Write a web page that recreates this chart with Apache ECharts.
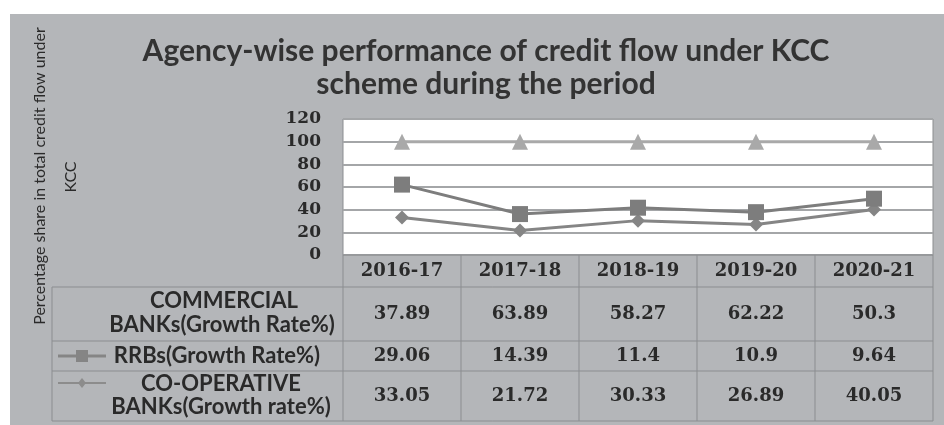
<!DOCTYPE html>
<html>
<head>
<meta charset="utf-8">
<script src="https://cdn.jsdelivr.net/npm/echarts@6/dist/echarts.min.js"></script>
<style>
  html, body { margin: 0; padding: 0; background: #fff; }
  #chart { width: 944px; height: 425px; }
</style>
</head>
<body>
<div id="chart"></div>
<script>
const years = ["2016-17", "2017-18", "2018-19", "2019-20", "2020-21"];
const commercial = [37.89, 63.89, 58.27, 62.22, 50.3];
const rrbs = [29.06, 14.39, 11.4, 10.9, 9.64];
const coop = [33.05, 21.72, 30.33, 26.89, 40.05];

const bg = "#b4b6b9";
const lineCol = "#8b8d90";
const textCol = "#2a2a2a";
const serif = "DejaVu Serif";
const sans = "Lato";

// plot / table geometry
const plotL = 343, plotR = 933, plotT = 119, plotB = 255;
const colW = (plotR - plotL) / years.length;
const rowY = [255, 287, 341, 371, 421];
const tableL = 52;

const myChart = echarts.init(document.getElementById("chart"));

let graphic = [];

// grey background panel
graphic.push({
  type: "rect", z: -10, silent: true,
  shape: { x: 10, y: 14, width: 934, height: 411 },
  style: { fill: bg }
});
// white plot area
graphic.push({
  type: "rect", z: -9, silent: true,
  shape: { x: plotL, y: plotT, width: plotR - plotL, height: plotB - plotT },
  style: { fill: "#fff", stroke: lineCol, lineWidth: 1 }
});

// table lines
const hLine = function (y, x1, x2) {
  graphic.push({
    type: "line", silent: true, z: 5,
    shape: { x1: x1, y1: y, x2: x2, y2: y },
    style: { stroke: lineCol, lineWidth: 1 }
  });
};
const vLine = function (x, y1, y2) {
  graphic.push({
    type: "line", silent: true, z: 5,
    shape: { x1: x, y1: y1, x2: x, y2: y2 },
    style: { stroke: lineCol, lineWidth: 1 }
  });
};
hLine(rowY[0], plotL, plotR);
for (let i = 1; i < rowY.length; i++) hLine(rowY[i], tableL, plotR);
vLine(tableL, rowY[1], rowY[4]);
for (let i = 0; i <= years.length; i++) vLine(plotL + i * colW, rowY[0], rowY[4]);

// table values
const tableRows = [commercial, rrbs, coop];
const valueY = [314, 356, 396];
tableRows.forEach((row, r) => {
  row.forEach((v, c) => {
    graphic.push({
      type: "text", silent: true, z: 6,
      x: plotL + (c + 0.5) * colW, y: valueY[r],
      style: {
        text: String(v), fontFamily: serif, fontWeight: "bold", fontSize: 18,
        fill: textCol, align: "center", verticalAlign: "middle"
      }
    });
  });
});

// row labels
const labelText = function (t, x, y) {
  graphic.push({
    type: "text", silent: true, z: 6, x: x, y: y,
    style: {
      text: t, fontFamily: sans, fontWeight: "bold", fontSize: 22,
      fill: textCol, align: "center", verticalAlign: "middle"
    }
  });
};
labelText("COMMERCIAL", 224, 301);
labelText("BANKs(Growth Rate%)", 222, 325);
labelText("RRBs(Growth Rate%)", 217, 356);
labelText("CO-OPERATIVE", 221, 384);
labelText("BANKs(Growth rate%)", 221, 407);

// legend keys inside the table
graphic.push({
  type: "line", silent: true, z: 6,
  shape: { x1: 58, y1: 356, x2: 106, y2: 356 },
  style: { stroke: "#858585", lineWidth: 3 }
});
graphic.push({
  type: "rect", silent: true, z: 7,
  shape: { x: 76, y: 350, width: 12, height: 12 },
  style: { fill: "#858585" }
});
graphic.push({
  type: "line", silent: true, z: 6,
  shape: { x1: 58, y1: 383, x2: 106, y2: 383 },
  style: { stroke: "#8c8c8c", lineWidth: 2 }
});
graphic.push({
  type: "polygon", silent: true, z: 7,
  shape: { points: [[82, 378], [86, 383], [82, 388], [78, 383]] },
  style: { fill: "#8c8c8c" }
});

// y axis title (two rotated lines)
graphic.push({
  type: "text", silent: true, x: 40, y: 176, rotation: Math.PI / 2,
  style: {
    text: "Percentage share in total credit flow under", fontFamily: sans,
    fontSize: 16, fill: textCol, align: "center", verticalAlign: "middle"
  }
});
graphic.push({
  type: "text", silent: true, x: 71, y: 177, rotation: Math.PI / 2,
  style: {
    text: "KCC", fontFamily: sans, fontSize: 16, fill: textCol,
    align: "center", verticalAlign: "middle"
  }
});

const option = {
  animation: false,
  title: {
    text: "Agency-wise performance of credit flow under KCC\nscheme during the period",
    left: 481, top: 30, textAlign: "center",
    textStyle: {
      fontFamily: sans, fontWeight: "bold", fontSize: 30, color: "#333",
      lineHeight: 33
    }
  },
  grid: { left: plotL, right: 944 - plotR, top: plotT, bottom: 425 - plotB },
  xAxis: {
    type: "category",
    data: years,
    boundaryGap: true,
    axisLine: { show: false },
    axisTick: { show: false },
    axisLabel: {
      margin: 7, fontFamily: serif, fontWeight: "bold", fontSize: 18, color: textCol
    }
  },
  yAxis: {
    type: "value",
    min: 0, max: 120, interval: 20,
    axisLine: { show: false },
    axisTick: { show: false },
    axisLabel: {
      margin: 22, fontFamily: serif, fontWeight: "bold", fontSize: 17, color: textCol
    },
    splitLine: { lineStyle: { color: "#a4a6a8", width: 2 } }
  },
  graphic: graphic,
  series: [
    {
      name: "CO-OPERATIVE BANKs(Growth rate%)",
      type: "line",
      stack: "total",
      data: coop,
      symbol: "diamond",
      symbolSize: 14,
      lineStyle: { color: "#858585", width: 3 },
      itemStyle: { color: "#858585" }
    },
    {
      name: "RRBs(Growth Rate%)",
      type: "line",
      stack: "total",
      data: rrbs,
      symbol: "rect",
      symbolSize: 16,
      lineStyle: { color: "#7d7d7d", width: 3 },
      itemStyle: { color: "#7d7d7d" }
    },
    {
      name: "COMMERCIAL BANKs(Growth Rate%)",
      type: "line",
      stack: "total",
      data: commercial,
      symbol: "triangle",
      symbolSize: 16,
      lineStyle: { color: "#a9a9a9", width: 3 },
      itemStyle: { color: "#a9a9a9" }
    }
  ]
};

myChart.setOption(option);
</script>
</body>
</html>
